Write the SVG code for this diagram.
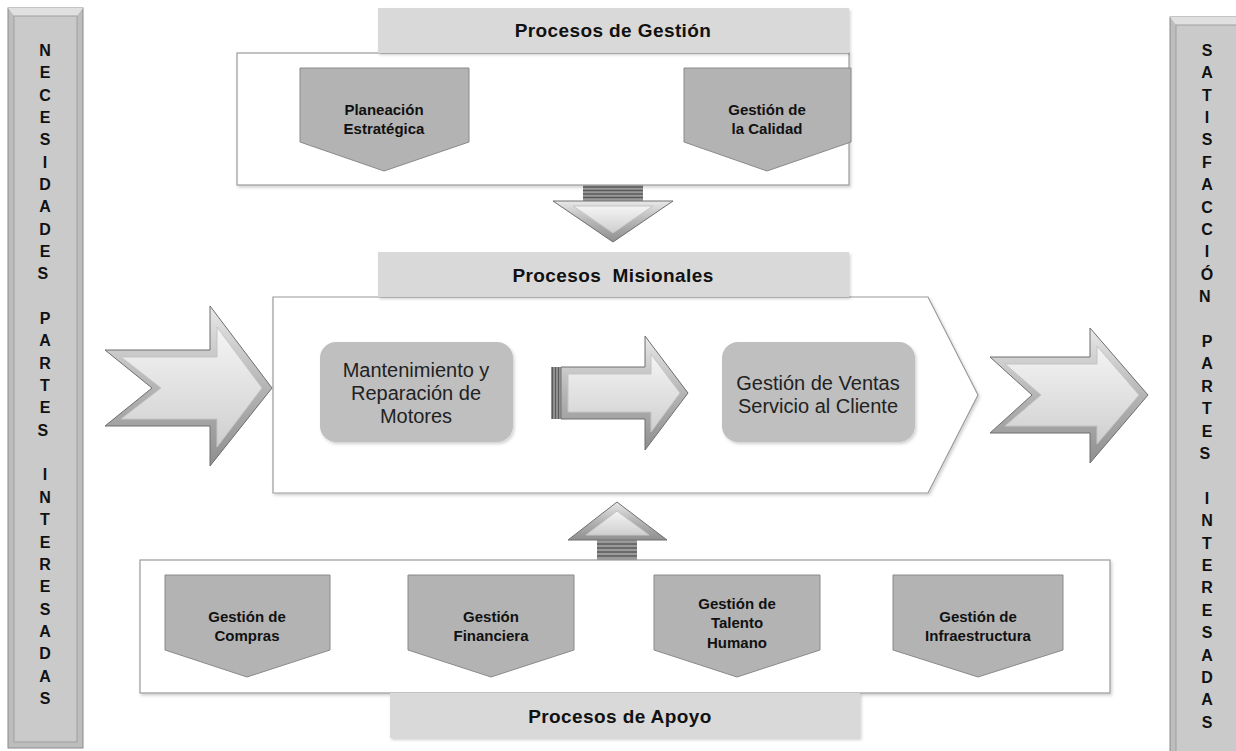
<svg xmlns="http://www.w3.org/2000/svg" width="1236" height="751" viewBox="0 0 1236 751">
<style>
  .bar-o{fill:#bdbdbd;stroke:#8a8a8a;stroke-width:1}
  .bar-i{fill:#cacaca;stroke:#a0a0a0;stroke-width:1}
  .vt{font-family:"Liberation Sans",Arial,sans-serif;font-weight:bold;font-size:16px;fill:#111;text-anchor:middle}
  .box{fill:#fff;stroke:#9a9a9a;stroke-width:1.2}
  .hdr{fill:#d9d9d9}
  .ht{font-family:"Liberation Sans",Arial,sans-serif;font-weight:bold;font-size:19px;letter-spacing:0.4px;fill:#111;text-anchor:middle}
  .pent{fill:#b3b3b3;stroke:#8a8a8a;stroke-width:1}
  .pt{font-family:"Liberation Sans",Arial,sans-serif;font-weight:bold;font-size:15px;fill:#111;text-anchor:middle}
  .rr{fill:#bfbfbf}
  .rt{font-family:"Liberation Sans",Arial,sans-serif;font-size:20px;fill:#222;text-anchor:middle}
  .arrO{fill:url(#bev);stroke:#6e6e6e;stroke-width:1}
  .arrI{fill:url(#face);stroke:#c4c4c4;stroke-width:1}
  .stripe{stroke:#5a5a5a;stroke-width:1.3}
</style>
<defs>
  <linearGradient id="bev" x1="0" y1="0" x2="0" y2="1">
    <stop offset="0" stop-color="#e8e8e8"/>
    <stop offset="0.5" stop-color="#b5b5b5"/>
    <stop offset="1" stop-color="#8f8f8f"/>
  </linearGradient>
  <linearGradient id="face" x1="0" y1="0" x2="0" y2="1">
    <stop offset="0" stop-color="#f4f4f4"/>
    <stop offset="0.6" stop-color="#dedede"/>
    <stop offset="1" stop-color="#cfcfcf"/>
  </linearGradient>
  <filter id="sh" x="-5%" y="-5%" width="115%" height="120%">
    <feDropShadow dx="1.5" dy="2" stdDeviation="1.5" flood-color="#000" flood-opacity="0.18"/>
  </filter>
</defs>

<g id="left-bar">
  <rect class="bar-o" x="8" y="8" width="75" height="740"/>
  <polygon points="8,8 83,8 77,16 14,16" fill="#e0e0e0"/>
  <rect class="bar-i" x="14" y="16" width="63" height="726"/>
  <text class="vt">
    <tspan x="45" y="55.8">N</tspan><tspan x="45" dy="22.35">E</tspan><tspan x="45" dy="22.35">C</tspan><tspan x="45" dy="22.35">E</tspan><tspan x="45" dy="22.35">S</tspan><tspan x="45" dy="22.35">I</tspan><tspan x="45" dy="22.35">D</tspan><tspan x="45" dy="22.35">A</tspan><tspan x="45" dy="22.35">D</tspan><tspan x="45" dy="22.35">E</tspan><tspan x="45" dy="22.35">S</tspan>
    <tspan x="45" dy="44.7">P</tspan><tspan x="45" dy="22.35">A</tspan><tspan x="45" dy="22.35">R</tspan><tspan x="45" dy="22.35">T</tspan><tspan x="45" dy="22.35">E</tspan><tspan x="45" dy="22.35">S</tspan>
    <tspan x="45" dy="44.7">I</tspan><tspan x="45" dy="22.35">N</tspan><tspan x="45" dy="22.35">T</tspan><tspan x="45" dy="22.35">E</tspan><tspan x="45" dy="22.35">R</tspan><tspan x="45" dy="22.35">E</tspan><tspan x="45" dy="22.35">S</tspan><tspan x="45" dy="22.35">A</tspan><tspan x="45" dy="22.35">D</tspan><tspan x="45" dy="22.35">A</tspan><tspan x="45" dy="22.35">S</tspan>
  </text>
</g>

<g id="right-bar">
  <rect class="bar-o" x="1170" y="17" width="75" height="740"/>
  <polygon points="1170,17 1245,17 1239,25 1176,25" fill="#e0e0e0"/>
  <rect class="bar-i" x="1176" y="25" width="63" height="730"/>
  <text class="vt">
    <tspan x="1207" y="55.8">S</tspan><tspan x="1207" dy="22.4">A</tspan><tspan x="1207" dy="22.4">T</tspan><tspan x="1207" dy="22.4">I</tspan><tspan x="1207" dy="22.4">S</tspan><tspan x="1207" dy="22.4">F</tspan><tspan x="1207" dy="22.4">A</tspan><tspan x="1207" dy="22.4">C</tspan><tspan x="1207" dy="22.4">C</tspan><tspan x="1207" dy="22.4">I</tspan><tspan x="1207" dy="22.4">Ó</tspan><tspan x="1207" dy="22.4">N</tspan>
    <tspan x="1207" dy="44.8">P</tspan><tspan x="1207" dy="22.4">A</tspan><tspan x="1207" dy="22.4">R</tspan><tspan x="1207" dy="22.4">T</tspan><tspan x="1207" dy="22.4">E</tspan><tspan x="1207" dy="22.4">S</tspan>
    <tspan x="1207" dy="44.8">I</tspan><tspan x="1207" dy="22.4">N</tspan><tspan x="1207" dy="22.4">T</tspan><tspan x="1207" dy="22.4">E</tspan><tspan x="1207" dy="22.4">R</tspan><tspan x="1207" dy="22.4">E</tspan><tspan x="1207" dy="22.4">S</tspan><tspan x="1207" dy="22.4">A</tspan><tspan x="1207" dy="22.4">D</tspan><tspan x="1207" dy="22.4">A</tspan><tspan x="1207" dy="22.4">S</tspan>
  </text>
</g>

<g id="procesos-gestion">
  <rect class="box" x="237" y="53" width="612" height="132" filter="url(#sh)"/>
  <rect class="hdr" x="378" y="8" width="471" height="45" filter="url(#sh)"/>
  <text class="ht" x="613" y="37">Procesos de Gestión</text>
</g>
<g id="planeacion">
  <polygon class="pent" points="300,68 469,68 469,142 384,171 300,142"/>
  <text class="pt" x="384" y="115">Planeación</text>
  <text class="pt" x="384" y="134">Estratégica</text>
</g>
<g id="calidad">
  <polygon class="pent" points="684,68 851,68 851,142 767,171 684,142"/>
  <text class="pt" x="767" y="115">Gestión de</text>
  <text class="pt" x="767" y="134">la Calidad</text>
</g>

<g id="procesos-misionales">
  <polygon class="box" points="273,297 928,297 978,395 928,493 273,493" filter="url(#sh)"/>
  <rect class="hdr" x="378" y="252" width="471" height="45" filter="url(#sh)"/>
  <text class="ht" x="613" y="282" xml:space="preserve">Procesos  Misionales</text>
</g>
<g id="mantenimiento">
  <rect class="rr" x="320" y="342" width="193" height="100" rx="16" filter="url(#sh)"/>
  <text class="rt" x="416" y="377">Mantenimiento y</text>
  <text class="rt" x="416" y="400">Reparación de</text>
  <text class="rt" x="416" y="423">Motores</text>
</g>
<g id="ventas">
  <rect class="rr" x="722" y="342" width="193" height="100" rx="16" filter="url(#sh)"/>
  <text class="rt" x="818" y="390">Gestión de Ventas</text>
  <text class="rt" x="818" y="413">Servicio al Cliente</text>
</g>

<g id="procesos-apoyo">
  <rect class="box" x="140" y="560" width="970" height="133" filter="url(#sh)"/>
  <rect class="hdr" x="390" y="693" width="470" height="45" filter="url(#sh)"/>
  <text class="ht" x="620" y="723">Procesos de Apoyo</text>
</g>
<g id="compras">
  <polygon class="pent" points="165,575 330,575 330,650 247,677 165,650"/>
  <text class="pt" x="247" y="622">Gestión de</text>
  <text class="pt" x="247" y="641">Compras</text>
</g>
<g id="financiera">
  <polygon class="pent" points="408,575 574,575 574,650 491,677 408,650"/>
  <text class="pt" x="491" y="622">Gestión</text>
  <text class="pt" x="491" y="641">Financiera</text>
</g>
<g id="talento">
  <polygon class="pent" points="654,575 820,575 820,650 737,677 654,650"/>
  <text class="pt" x="737" y="609">Gestión de</text>
  <text class="pt" x="737" y="628">Talento</text>
  <text class="pt" x="737" y="648">Humano</text>
</g>
<g id="infraestructura">
  <polygon class="pent" points="893,575 1063,575 1063,650 978,677 893,650"/>
  <text class="pt" x="978" y="622">Gestión de</text>
  <text class="pt" x="978" y="641">Infraestructura</text>
</g>

<g id="connectors">
  <polygon class="arrO" points="105,350 210,350 210,306 272,388 210,466 210,426 105,426 152,388"/>
  <polygon class="arrI" points="121,357 217,357 217,327 262,388 217,447 217,419 121,419 161,388"/>
  <polygon class="arrO" points="990,357 1090,357 1090,328 1148,395 1090,463 1090,433 990,433 1032,395"/>
  <polygon class="arrI" points="1005,364 1097,364 1097,346 1139,395 1097,444 1097,426 1005,426 1041,395"/>
  <rect x="551" y="367" width="10" height="52" fill="#9a9a9a"/>
  <line class="stripe" x1="552.5" y1="367" x2="552.5" y2="419"/>
  <line class="stripe" x1="555.5" y1="367" x2="555.5" y2="419"/>
  <line class="stripe" x1="558.5" y1="367" x2="558.5" y2="419"/>
  <polygon class="arrO" points="561,367 645,367 645,336 688,393 645,450 645,419 561,419"/>
  <polygon class="arrI" points="568,374 651,374 651,354 680,393 651,432 651,412 568,412"/>
  <rect x="583" y="185" width="60" height="16" fill="#9a9a9a"/>
  <line class="stripe" x1="583" y1="187" x2="643" y2="187"/>
  <line class="stripe" x1="583" y1="190.5" x2="643" y2="190.5"/>
  <line class="stripe" x1="583" y1="194" x2="643" y2="194"/>
  <line class="stripe" x1="583" y1="197.5" x2="643" y2="197.5"/>
  <polygon class="arrO" points="553,201 673,201 613,242"/>
  <polygon class="arrI" points="573,206 653,206 613,233"/>
  <rect x="597" y="540" width="40" height="20" fill="#9a9a9a"/>
  <line class="stripe" x1="597" y1="544" x2="637" y2="544"/>
  <line class="stripe" x1="597" y1="548" x2="637" y2="548"/>
  <line class="stripe" x1="597" y1="552" x2="637" y2="552"/>
  <line class="stripe" x1="597" y1="556" x2="637" y2="556"/>
  <polygon class="arrO" points="568,540 667,540 617,502"/>
  <polygon class="arrI" points="586,535 649,535 617,511"/>
</g>
</svg>
